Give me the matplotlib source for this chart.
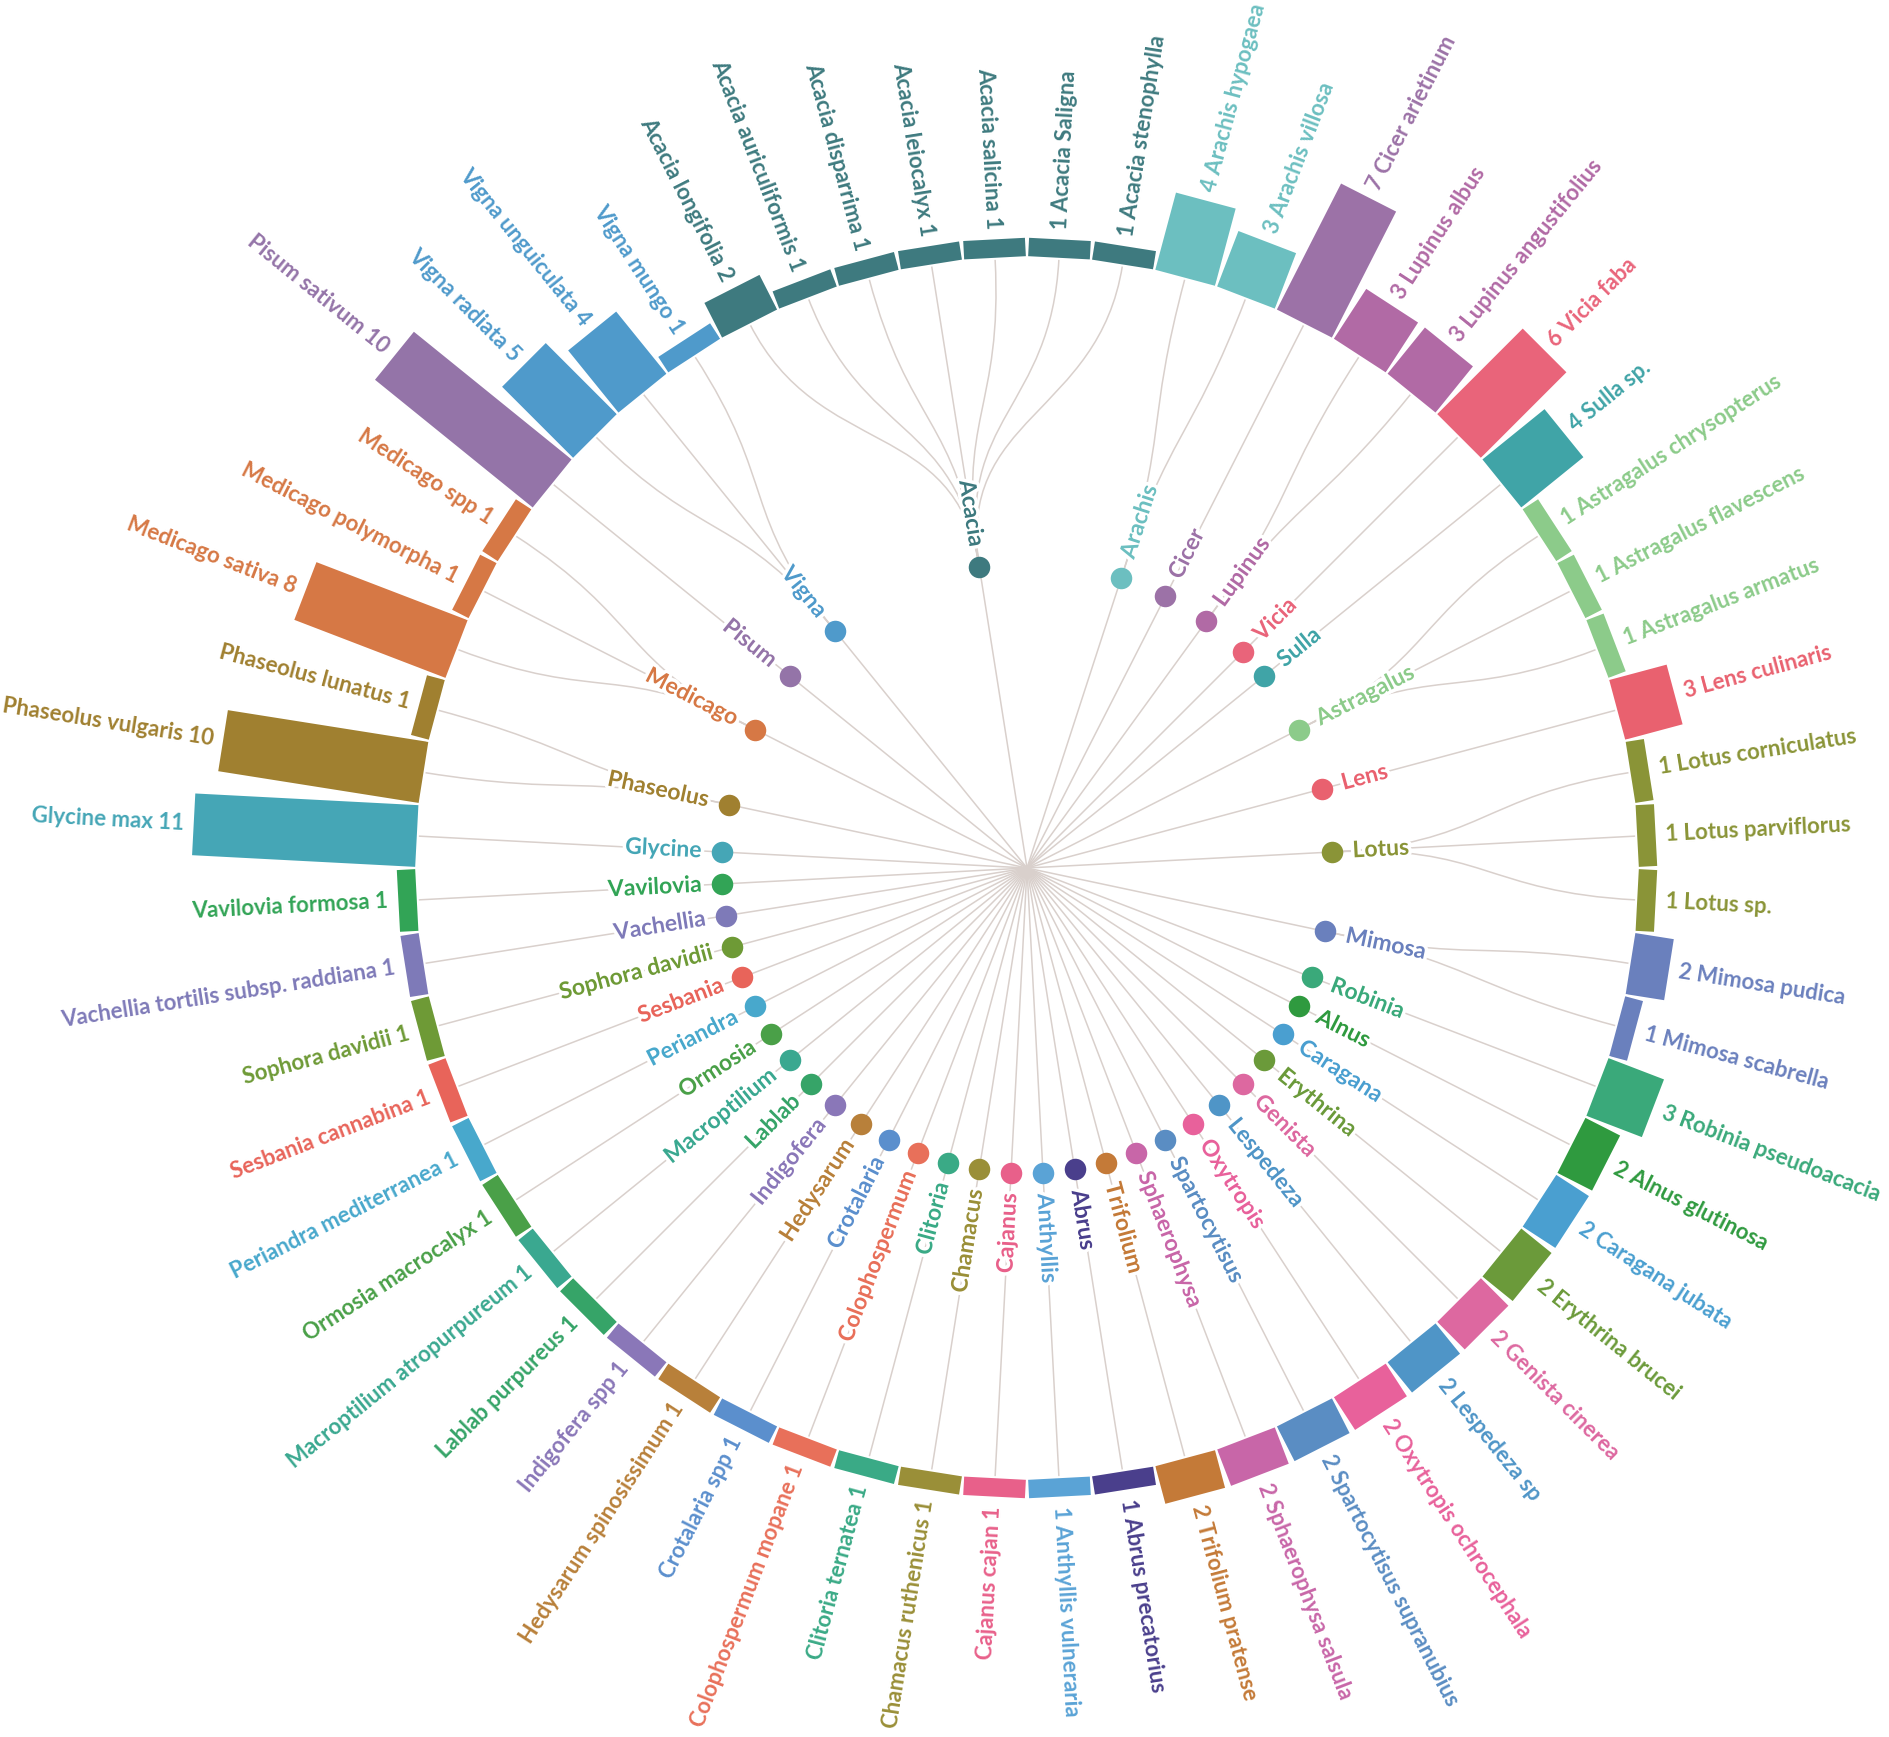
import numpy as np
import matplotlib
matplotlib.use("Agg")
import matplotlib.pyplot as plt
from matplotlib.path import Path
from matplotlib.patches import PathPatch, Polygon
import matplotlib.patheffects as pe

plt.rcParams['font.family'] = ['Lato', 'DejaVu Sans']

# genera (clockwise from the top) and their colours
genera = ["Acacia", "Arachis", "Cicer", "Lupinus", "Vicia", "Sulla", "Astragalus", "Lens",
          "Lotus", "Mimosa", "Robinia", "Alnus", "Caragana", "Erythrina", "Genista",
          "Lespedeza", "Oxytropis", "Spartocytisus", "Sphaerophysa", "Trifolium", "Abrus",
          "Anthyllis", "Cajanus", "Chamacus", "Clitoria", "Colophospermum", "Crotalaria",
          "Hedysarum", "Indigofera", "Lablab", "Macroptilium", "Ormosia", "Periandra",
          "Sesbania", "Sophora davidii", "Vachellia", "Vavilovia", "Glycine", "Phaseolus",
          "Medicago", "Pisum", "Vigna"]
genus_colors = ["#3e7a7f", "#6cbfc0", "#9c72a7", "#b16aa5", "#e9647a", "#40a4a7", "#8ccb8a",
                "#e9616f", "#8a9437", "#6a80bd", "#3aa97a", "#2f9a3f", "#4a9fd0", "#6b9a3a",
                "#dd68a0", "#4f95c7", "#e8619b", "#5a8dc3", "#c866a8", "#c47a38", "#4a3f8c",
                "#5aa3d6", "#e8608a", "#9a8f38", "#3aaa86", "#e8705a", "#5b8fcd", "#b8803a",
                "#8a77b8", "#36a468", "#3aa890", "#4aa048", "#48a8cc", "#e8645a", "#6e9a36",
                "#7e7ab8", "#32a456", "#45a6b6", "#a08030", "#d67845", "#9474a8", "#4f9acb"]

# leaves, clockwise starting just right of the top
species = ["Acacia Saligna", "Acacia stenophylla", "Arachis hypogaea", "Arachis villosa",
           "Cicer arietinum", "Lupinus albus", "Lupinus angustifolius", "Vicia faba",
           "Sulla sp.", "Astragalus chrysopterus", "Astragalus flavescens", "Astragalus armatus",
           "Lens culinaris", "Lotus corniculatus", "Lotus parviflorus", "Lotus sp.",
           "Mimosa pudica", "Mimosa scabrella", "Robinia pseudoacacia", "Alnus glutinosa",
           "Caragana jubata", "Erythrina brucei", "Genista cinerea", "Lespedeza sp",
           "Oxytropis ochrocephala", "Spartocytisus supranubius", "Sphaerophysa salsula",
           "Trifolium pratense", "Abrus precatorius", "Anthyllis vulneraria",
           "Cajanus cajan", "Chamacus ruthenicus", "Clitoria ternatea", "Colophospermum mopane",
           "Crotalaria spp", "Hedysarum spinosissimum", "Indigofera spp", "Lablab purpureus",
           "Macroptilium atropurpureum", "Ormosia macrocalyx", "Periandra mediterranea",
           "Sesbania cannabina", "Sophora davidii", "Vachellia tortilis subsp. raddiana",
           "Vavilovia formosa", "Glycine max", "Phaseolus vulgaris", "Phaseolus lunatus",
           "Medicago sativa", "Medicago polymorpha", "Medicago spp", "Pisum sativum",
           "Vigna radiata", "Vigna unguiculata", "Vigna mungo", "Acacia longifolia",
           "Acacia auriculiformis", "Acacia disparrima", "Acacia leiocalyx", "Acacia salicina"]
counts = [1, 1, 4, 3, 7, 3, 3, 6, 4, 1, 1, 1, 3, 1, 1, 1, 2, 1, 3, 2, 2, 2, 2, 2, 2, 2, 2, 2, 1, 1,
          1, 1, 1, 1, 1, 1, 1, 1, 1, 1, 1, 1, 1, 1, 1, 11, 10, 1, 8, 1, 1, 10, 5, 4, 1, 2, 1, 1, 1, 1]
species_genus = ["Acacia", "Acacia", "Arachis", "Arachis", "Cicer", "Lupinus", "Lupinus", "Vicia",
                 "Sulla", "Astragalus", "Astragalus", "Astragalus", "Lens", "Lotus", "Lotus", "Lotus",
                 "Mimosa", "Mimosa", "Robinia", "Alnus", "Caragana", "Erythrina", "Genista",
                 "Lespedeza", "Oxytropis", "Spartocytisus", "Sphaerophysa", "Trifolium", "Abrus",
                 "Anthyllis", "Cajanus", "Chamacus", "Clitoria", "Colophospermum", "Crotalaria",
                 "Hedysarum", "Indigofera", "Lablab", "Macroptilium", "Ormosia", "Periandra",
                 "Sesbania", "Sophora davidii", "Vachellia", "Vavilovia", "Glycine", "Phaseolus",
                 "Phaseolus", "Medicago", "Medicago", "Medicago", "Pisum", "Vigna", "Vigna", "Vigna",
                 "Acacia", "Acacia", "Acacia", "Acacia", "Acacia"]

W, H = 1890, 1737
cx, cy = 1027, 868          # centre of the tree in pixels
R0 = 610                    # radius where the bars start
RG = R0 / 2                 # radius of the genus nodes
unit = 20.5                 # bar length per count
link_color = "#d9d0cc"

fig = plt.figure(figsize=(W / 100, H / 100), dpi=100)
ax = fig.add_axes([0, 0, 1, 1])
ax.set_xlim(-cx, W - cx)
ax.set_ylim(-(H - cy), cy)
ax.axis('off')


def polar(a, r):
    return np.array([r * np.cos(np.radians(a)), r * np.sin(np.radians(a))])


n = len(species)
step = 360 / n
leaf_angle = [90 - step / 2 - step * i for i in range(n)]
gcol = dict(zip(genera, genus_colors))

# genus angle = circular mean of its leaves
genus_angle = {}
for g in genera:
    vs = [polar(a, 1) for a, sg in zip(leaf_angle, species_genus) if sg == g]
    v = np.sum(vs, axis=0)
    genus_angle[g] = np.degrees(np.arctan2(v[1], v[0]))

# links centre -> genus
for g in genera:
    p = polar(genus_angle[g], RG)
    ax.plot([0, p[0]], [0, p[1]], color=link_color, lw=1.1, zorder=1, solid_capstyle='round')

# links genus -> leaf (radial bezier)
for a, g in zip(leaf_angle, species_genus):
    ag = genus_angle[g]
    rm = (RG + R0) / 2
    verts = [polar(ag, RG), polar(ag, rm), polar(a, rm), polar(a, R0)]
    path = Path(verts, [Path.MOVETO, Path.CURVE4, Path.CURVE4, Path.CURVE4])
    ax.add_patch(PathPatch(path, fc='none', ec=link_color, lw=1.1, zorder=1))

# bars and leaf labels
bw = 2 * np.pi * R0 / n
for a, name, c, g in zip(leaf_angle, species, counts, species_genus):
    L = c * unit
    u = polar(a, 1)
    t = np.array([-u[1], u[0]])
    base = u * R0
    pts = [base - t * bw / 2, base + t * bw / 2, base + u * L + t * bw / 2, base + u * L - t * bw / 2]
    ax.add_patch(Polygon(pts, closed=True, fc=gcol[g], ec='white', lw=1.5, zorder=2))
    tp = polar(a, R0 + L + 9)
    if np.cos(np.radians(a)) >= 0:
        ax.text(tp[0], tp[1], f"{c} {name}", rotation=a, rotation_mode='anchor',
                ha='left', va='center', fontsize=16, fontweight='bold', color=gcol[g])
    else:
        ax.text(tp[0], tp[1], f"{name} {c}", rotation=a + 180, rotation_mode='anchor',
                ha='right', va='center', fontsize=16, fontweight='bold', color=gcol[g])

# genus nodes and labels
halo = [pe.withStroke(linewidth=5, foreground='white')]
for g in genera:
    ag = genus_angle[g]
    p = polar(ag, RG)
    ax.scatter([p[0]], [p[1]], s=240, color=gcol[g], zorder=4, linewidths=0)
    tp = polar(ag, RG + 21)
    if np.cos(np.radians(ag)) >= 0:
        ax.text(tp[0], tp[1], g, rotation=ag, rotation_mode='anchor', ha='left', va='center',
                fontsize=16.5, fontweight='bold', color=gcol[g], zorder=3, path_effects=halo)
    else:
        ax.text(tp[0], tp[1], g, rotation=ag + 180, rotation_mode='anchor', ha='right', va='center',
                fontsize=16.5, fontweight='bold', color=gcol[g], zorder=3, path_effects=halo)

fig.savefig("out.png", dpi=100, facecolor='white')
